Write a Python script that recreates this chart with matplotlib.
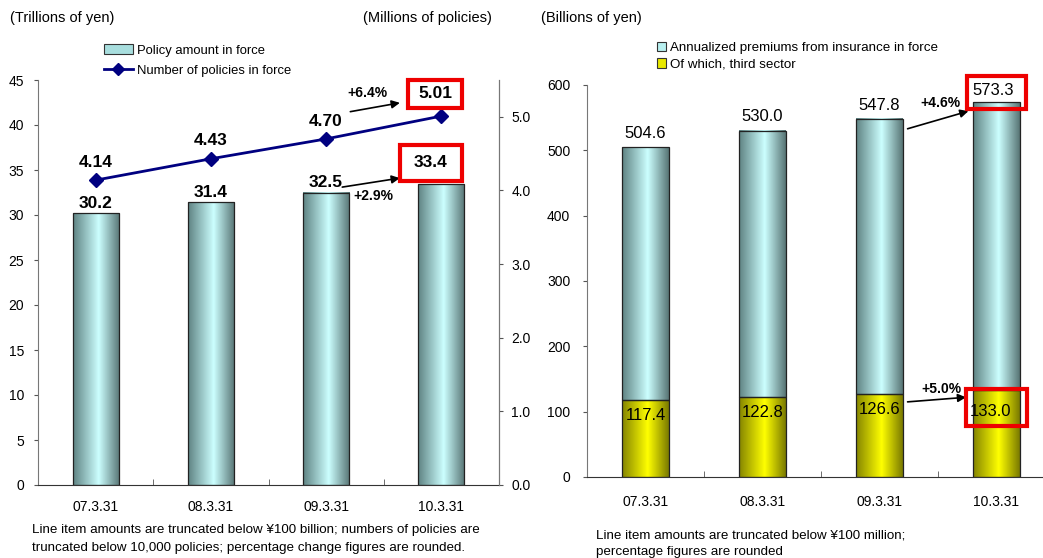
import numpy as np
import matplotlib
matplotlib.use("Agg")
import matplotlib.pyplot as plt
from matplotlib.colors import LinearSegmentedColormap
from matplotlib.patches import Rectangle, Patch
from matplotlib.lines import Line2D

plt.rcParams['font.family'] = ['Liberation Sans', 'DejaVu Sans']

# data
dates = ['07.3.31', '08.3.31', '09.3.31', '10.3.31']
policy_amount = [30.2, 31.4, 32.5, 33.4]          # trillions of yen
policy_count = [4.14, 4.43, 4.70, 5.01]           # millions of policies
premiums = [504.6, 530.0, 547.8, 573.3]           # billions of yen
third_sector = [117.4, 122.8, 126.6, 133.0]       # billions of yen
chg_amount = '+2.9%'
chg_count = '+6.4%'
chg_premiums = '+4.6%'
chg_third = '+5.0%'

cyan = LinearSegmentedColormap.from_list(
    'cyl_cyan', [(0, '#5f8383'), (0.55, '#ccffff'), (1, '#587575')])
yellow = LinearSegmentedColormap.from_list(
    'cyl_yellow', [(0, '#858500'), (0.55, '#ffff00'), (1, '#7a7a00')])


def cylinder(ax, x, bottom, height, width, cmap):
    grad = np.linspace(0, 1, 128).reshape(1, -1)
    ax.imshow(grad, cmap=cmap, aspect='auto', origin='lower', zorder=2,
              extent=(x - width / 2, x + width / 2, bottom, bottom + height))
    ax.add_patch(Rectangle((x - width / 2, bottom), width, height, fill=False,
                           ec='#222222', lw=0.9, zorder=3))


def red_box(ax, x0, x1, y0, y1):
    ax.add_patch(Rectangle((x0, y0), x1 - x0, y1 - y0, fill=False, ec='#ee0000',
                           lw=3, zorder=6, clip_on=False))


W, H = 1043, 558
fig = plt.figure(figsize=(W / 100, H / 100), dpi=100)
x = np.arange(len(dates))
bw = 0.4

# ---------------- left: policy amount and number of policies ----------------
ax = fig.add_axes([38 / W, 1 - 485 / H, 461 / W, 405 / H])
for i, v in enumerate(policy_amount):
    cylinder(ax, x[i], 0, v, bw, cyan)
ax.set_xlim(-0.5, 3.5)
ax.set_ylim(0, 45)
ax.set_yticks(np.arange(0, 46, 5))
ax.set_xticks(x)
ax.set_xticklabels(dates)
ax.set_xticks([0.5, 1.5, 2.5], minor=True)
ax.tick_params(axis='x', which='major', length=0, pad=11, labelsize=10)
ax.tick_params(axis='x', which='minor', length=4, direction='in', color='#555555')
ax.tick_params(axis='y', length=3, direction='out', pad=7, labelsize=10, color='#555555')
ax.spines['top'].set_visible(False)
for s in ['left', 'bottom', 'right']:
    ax.spines[s].set_color('#777777')
ax.spines['bottom'].set_color('#333333')

for i, v in enumerate(policy_amount[:3]):
    ax.text(x[i], v + 0.3, f'{v:.1f}', ha='center', va='bottom',
            fontsize=12.5, fontweight='bold', zorder=5)
ax.text(2.91, 35.8, f'{policy_amount[3]:.1f}', ha='center', va='center',
        fontsize=12.5, fontweight='bold', zorder=7)
red_box(ax, 2.64, 3.18, 33.8, 37.8)
ax.annotate('', xy=(2.64, 34.1), xytext=(2.14, 33.1),
            arrowprops=dict(arrowstyle='-|>', color='black', lw=1.2,
                            mutation_scale=12, shrinkA=0, shrinkB=0))
ax.text(2.41, 32.1, chg_amount, ha='center', va='center', fontsize=10,
        fontweight='bold')

ax2 = ax.twinx()
ax2.plot(x, policy_count, color='#000080', lw=2, marker='D', ms=7, zorder=4)
ax2.set_ylim(0, 5.5)
ax2.set_yticks(np.arange(0, 5.1, 1.0))
ax2.set_yticklabels([f'{t:.1f}' for t in np.arange(0, 5.1, 1.0)])
ax2.tick_params(axis='y', length=3, direction='out', pad=6, labelsize=10, color='#555555')
for s in ['top', 'left', 'bottom']:
    ax2.spines[s].set_visible(False)
ax2.spines['right'].set_color('#777777')

for i, v in enumerate(policy_count[:3]):
    ax2.text(x[i], v + 0.14, f'{v:.2f}', ha='center', va='bottom',
             fontsize=12.5, fontweight='bold')
ax2.text(2.945, 5.31, f'{policy_count[3]:.2f}', ha='center', va='center',
         fontsize=12.5, fontweight='bold', zorder=7)
red_box(ax2, 2.71, 3.18, 5.12, 5.50)
ax2.annotate('', xy=(2.64, 5.19), xytext=(2.21, 5.07),
             arrowprops=dict(arrowstyle='-|>', color='black', lw=1.2,
                             mutation_scale=12, shrinkA=0, shrinkB=0))
ax2.text(2.36, 5.33, chg_count, ha='center', va='center', fontsize=10,
         fontweight='bold')

handles = [Patch(fc='#a8dede', ec='#333333', lw=0.8),
           Line2D([], [], color='#000080', lw=2, marker='D', ms=6)]
fig.legend(handles, ['Policy amount in force', 'Number of policies in force'],
           loc='upper left', bbox_to_anchor=(104 / W, 1 - 44 / H), frameon=False,
           fontsize=9.4, handlelength=2.2, handleheight=0.8, handletextpad=0.3,
           labelspacing=0.6, borderaxespad=0, borderpad=0)

# ---------------- right: annualized premiums ----------------
bx = fig.add_axes([587 / W, 1 - 477 / H, 468 / W, 392 / H])
for i in range(len(dates)):
    cylinder(bx, x[i], 0, third_sector[i], bw, yellow)
    cylinder(bx, x[i], third_sector[i], premiums[i] - third_sector[i], bw, cyan)
bx.set_xlim(-0.5, 3.5)
bx.set_ylim(0, 600)
bx.set_yticks(np.arange(0, 601, 100))
bx.set_xticks(x)
bx.set_xticklabels(dates)
bx.set_xticks([0.5, 1.5, 2.5], minor=True)
bx.tick_params(axis='x', which='major', length=0, pad=13, labelsize=10)
bx.tick_params(axis='x', which='minor', length=4, direction='in', color='#555555')
bx.tick_params(axis='y', length=3, direction='out', pad=9, labelsize=10, color='#555555')
bx.spines['top'].set_visible(False)
bx.spines['right'].set_visible(False)
bx.spines['left'].set_color('#777777')
bx.spines['bottom'].set_color('#333333')

for i in range(3):
    bx.text(x[i], premiums[i] + 10, f'{premiums[i]:.1f}', ha='center',
            va='bottom', fontsize=12)
    bx.text(x[i], third_sector[i] - 12, f'{third_sector[i]:.1f}', ha='center',
            va='top', fontsize=12, zorder=5)
bx.text(2.97, 591, f'{premiums[3]:.1f}', ha='center', va='center', fontsize=12,
        zorder=7)
bx.text(2.95, 101, f'{third_sector[3]:.1f}', ha='center', va='center',
        fontsize=12, zorder=7)
red_box(bx, 2.75, 3.25, 563, 614)
red_box(bx, 2.74, 3.26, 78, 134.7)
bx.annotate('', xy=(2.76, 560), xytext=(2.24, 533),
            arrowprops=dict(arrowstyle='-|>', color='black', lw=1.2,
                            mutation_scale=12, shrinkA=0, shrinkB=0))
bx.text(2.52, 572, chg_premiums, ha='center', va='center', fontsize=10,
        fontweight='bold')
bx.annotate('', xy=(2.74, 122), xytext=(2.24, 115),
            arrowprops=dict(arrowstyle='-|>', color='black', lw=1.2,
                            mutation_scale=12, shrinkA=0, shrinkB=0))
bx.text(2.53, 135, chg_third, ha='center', va='center', fontsize=10,
        fontweight='bold')

handles = [Patch(fc='#b8f0f0', ec='#333333', lw=0.8),
           Patch(fc='#e8e800', ec='#333333', lw=0.8)]
fig.legend(handles, ['Annualized premiums from insurance in force',
                     'Of which, third sector'],
           loc='upper left', bbox_to_anchor=(657 / W, 1 - 42 / H), frameon=False,
           fontsize=9.6, handlelength=0.7, handleheight=0.7, handletextpad=0.3,
           labelspacing=0.3, borderaxespad=0, borderpad=0)

# unit labels and notes
fig.text(10 / W, 1 - 18 / H, '(Trillions of yen)', fontsize=10.5, va='center')
fig.text(363 / W, 1 - 18 / H, '(Millions of policies)', fontsize=10.5, va='center')
fig.text(541 / W, 1 - 18 / H, '(Billions of yen)', fontsize=10.5, va='center')
fig.text(32 / W, 1 - 530 / H,
         'Line item amounts are truncated below ¥100 billion; numbers of policies are',
         fontsize=9.6, va='center')
fig.text(32 / W, 1 - 548 / H,
         'truncated below 10,000 policies; percentage change figures are rounded.',
         fontsize=9.6, va='center')
fig.text(596 / W, 1 - 536 / H, 'Line item amounts are truncated below ¥100 million;',
         fontsize=9.6, va='center')
fig.text(596 / W, 1 - 552 / H, 'percentage figures are rounded',
         fontsize=9.6, va='center')

fig.savefig('out.png', dpi=100)
